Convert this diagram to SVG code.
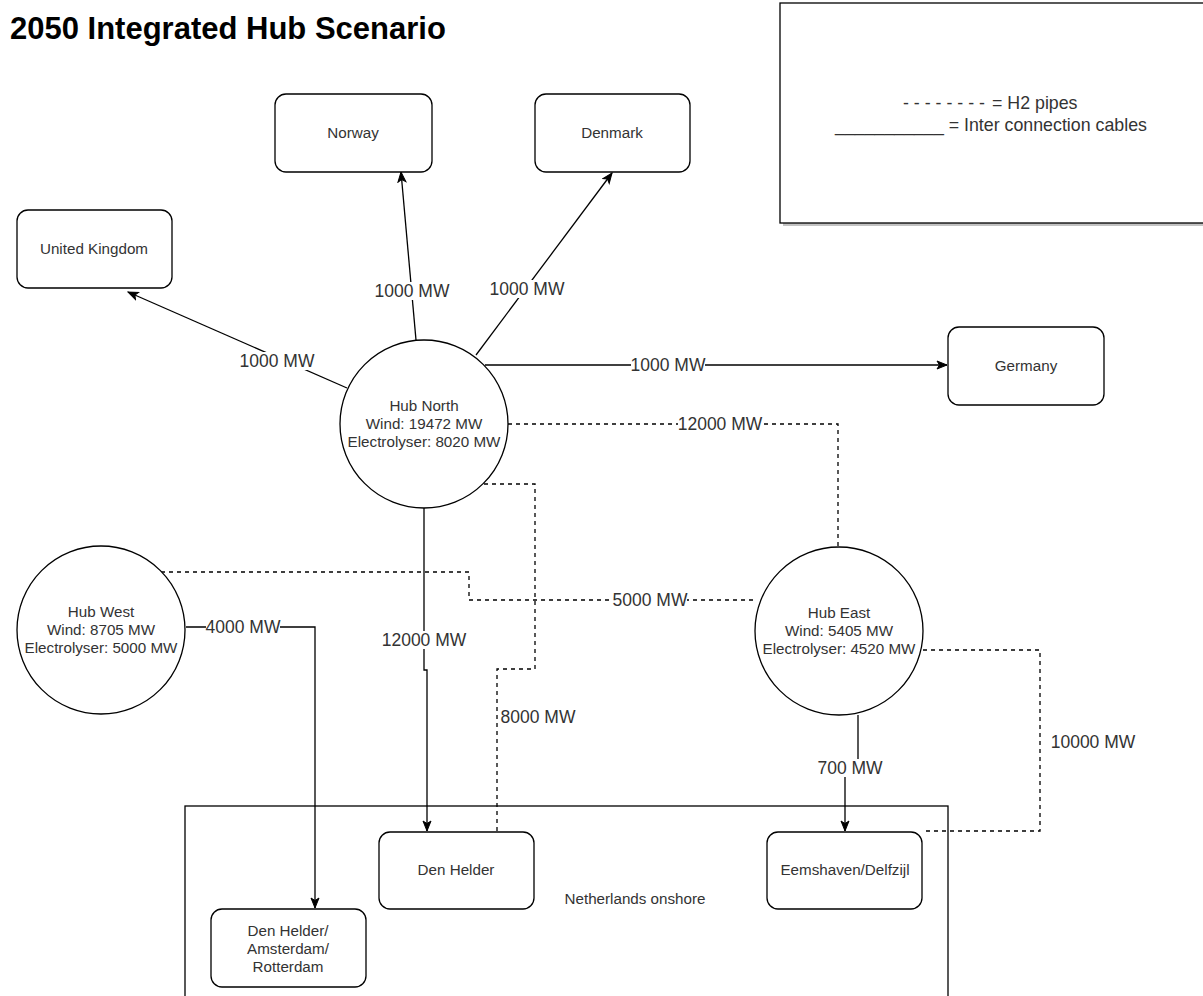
<svg xmlns="http://www.w3.org/2000/svg" width="1203" height="996" viewBox="0 0 1203 996">
<style>
  text { font-family: "Liberation Sans", Arial, sans-serif; fill: #333; }
  .title { font-size: 31px; font-weight: bold; fill: #000; }
  .node { fill: #fff; stroke: #000; stroke-width: 1.3; }
  .nt { font-size: 15.2px; text-anchor: middle; }
  .el { font-size: 17.5px; text-anchor: middle; }
  .lg { font-size: 17.8px; }
  .c { fill: none; stroke: #000; stroke-width: 1.3; }
  .d { stroke-dasharray: 4 4; }
  .bg { fill: #fff; }
</style>
<defs>
  <marker id="arr" markerUnits="userSpaceOnUse" markerWidth="12" markerHeight="10" viewBox="0 0 12 10" refX="11" refY="5" orient="auto">
    <path d="M1,1 L11,5 L1,9 L3.5,5 Z" fill="#000" stroke="#000" stroke-width="1"/>
  </marker>
</defs>
<rect width="1203" height="996" fill="#fff"/>
<text class="title" x="10" y="39">2050 Integrated Hub Scenario</text>

<g id="legend">
  <rect x="783" y="6" width="430" height="220" fill="#999" opacity="0.6"/>
  <rect x="780" y="3" width="430" height="220" fill="#fff" stroke="#000" stroke-width="1.3"/>
  <text class="lg" x="903" y="109">- - - - - - - -<tspan x="992">= H2 pipes</tspan></text>
  <text class="lg" x="835" y="131">___________ = Inter connection cables</text>
</g>

<g id="netherlands">
  <rect x="185" y="806" width="763" height="200" fill="#fff" stroke="#000" stroke-width="1.3"/>
  <text class="nt" x="635" y="904">Netherlands onshore</text>
</g>

<g id="connectors">
  <!-- cables -->
  <path class="c" d="M347,388 L128,292" marker-end="url(#arr)"/>
  <path class="c" d="M416,340 L401,172" marker-end="url(#arr)"/>
  <path class="c" d="M476,355 L612,173" marker-end="url(#arr)"/>
  <path class="c" d="M485,365 L947,365" marker-end="url(#arr)"/>
  <path class="c" d="M424,508 V670 H427 V831" marker-end="url(#arr)"/>
  <path class="c" d="M186,627 H315 V908" marker-end="url(#arr)"/>
  <path class="c" d="M858,715 V768 H845 V831" marker-end="url(#arr)"/>
  <!-- pipes -->
  <path class="c d" d="M508,424 H838 V547"/>
  <path class="c d" d="M484,484 H535 V669 H497 V832"/>
  <path class="c d" d="M161,572 H469 V600 H755"/>
  <path class="c d" d="M923,650 H1040 V831 H922"/>
  <!-- labels -->
  <rect class="bg" x="240" y="352" width="74" height="18"/>
  <text class="el" x="277" y="367">1000 MW</text>
  <rect class="bg" x="375" y="282" width="74" height="18"/>
  <text class="el" x="412" y="297">1000 MW</text>
  <rect class="bg" x="490" y="280" width="74" height="18"/>
  <text class="el" x="527" y="295">1000 MW</text>
  <rect class="bg" x="631" y="356" width="74" height="18"/>
  <text class="el" x="668" y="371">1000 MW</text>
  <rect class="bg" x="678" y="415" width="84" height="18"/>
  <text class="el" x="720" y="430">12000 MW</text>
  <rect class="bg" x="382" y="631" width="84" height="18"/>
  <text class="el" x="424" y="646">12000 MW</text>
  <rect class="bg" x="613" y="591" width="74" height="18"/>
  <text class="el" x="650" y="606">5000 MW</text>
  <rect class="bg" x="206" y="618" width="74" height="18"/>
  <text class="el" x="243" y="633">4000 MW</text>
  <rect class="bg" x="813" y="759" width="74" height="18"/>
  <text class="el" x="850" y="774">700 MW</text>
  <text class="el" x="538" y="723">8000 MW</text>
  <text class="el" x="1093" y="748">10000 MW</text>
</g>

<g id="norway">
  <rect class="node" x="275" y="94" width="157" height="78" rx="11"/>
  <text class="nt" x="353" y="138">Norway</text>
</g>
<g id="denmark">
  <rect class="node" x="535" y="94" width="155" height="78" rx="11"/>
  <text class="nt" x="612" y="138">Denmark</text>
</g>
<g id="uk">
  <rect class="node" x="17" y="210" width="155" height="78" rx="11"/>
  <text class="nt" x="94" y="254">United Kingdom</text>
</g>
<g id="germany">
  <rect class="node" x="948" y="327" width="156" height="78" rx="11"/>
  <text class="nt" x="1026" y="371">Germany</text>
</g>
<g id="hub-north">
  <circle class="node" cx="424" cy="424" r="84"/>
  <text class="nt" x="424" y="411">Hub North</text>
  <text class="nt" x="424" y="429">Wind: 19472 MW</text>
  <text class="nt" x="424" y="447">Electrolyser: 8020 MW</text>
</g>
<g id="hub-west">
  <circle class="node" cx="101" cy="630" r="84"/>
  <text class="nt" x="101" y="617">Hub West</text>
  <text class="nt" x="101" y="635">Wind: 8705 MW</text>
  <text class="nt" x="101" y="653">Electrolyser: 5000 MW</text>
</g>
<g id="hub-east">
  <circle class="node" cx="839" cy="631" r="84"/>
  <text class="nt" x="839" y="618">Hub East</text>
  <text class="nt" x="839" y="636">Wind: 5405 MW</text>
  <text class="nt" x="839" y="654">Electrolyser: 4520 MW</text>
</g>
<g id="den-helder">
  <rect class="node" x="379" y="832" width="155" height="77" rx="11"/>
  <text class="nt" x="456" y="875">Den Helder</text>
</g>
<g id="den-helder-amsterdam-rotterdam">
  <rect class="node" x="211" y="909" width="155" height="78" rx="11"/>
  <text class="nt" x="288" y="936">Den Helder/</text>
  <text class="nt" x="288" y="954">Amsterdam/</text>
  <text class="nt" x="288" y="972">Rotterdam</text>
</g>
<g id="eemshaven">
  <rect class="node" x="767" y="832" width="155" height="77" rx="11"/>
  <text class="nt" x="845" y="875">Eemshaven/Delfzijl</text>
</g>
</svg>
